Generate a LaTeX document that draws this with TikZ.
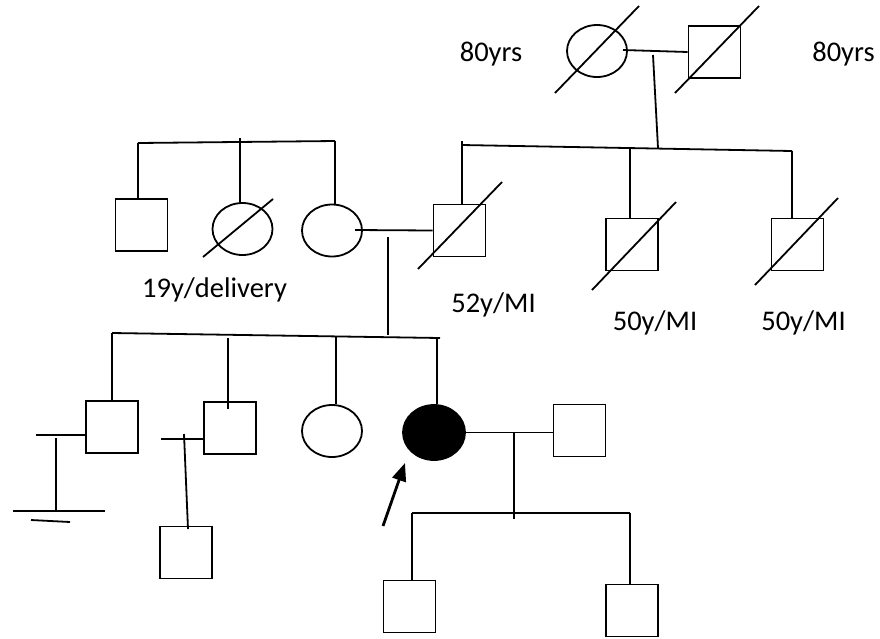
\documentclass[tikz,border=0pt]{standalone}
\usepackage{fontspec}
\setmainfont{Carlito}
\usetikzlibrary{shapes.geometric,arrows.meta}
\begin{document}
\begin{tikzpicture}[x=1pt,y=-1pt,line width=1.8pt,
  male/.style={draw,rectangle,inner sep=0pt,minimum width=52pt,minimum height=52pt},
  female/.style={draw,ellipse,inner sep=0pt,minimum width=60pt,minimum height=52pt},
  lbl/.style={font=\fontsize{28.5}{32}\selectfont,anchor=base,inner sep=0pt},
  ln/.style={line width=1.8pt}]
\useasboundingbox (0,0) rectangle (880,638);
% generation I
\node[female] (gm) at (597,51) {};
\node[male] (gf) at (714.5,52) {};
\draw[ln] (555,93) -- (639,6);
\draw[ln] (675,93) -- (759,6);
\node[lbl] (agegm) at (491,61) {80yrs};
\node[lbl] (agegf) at (843.5,61) {80yrs};
\coordinate (gmr) at (623,50);
\coordinate (m1) at (653,55);
\draw[ln] (gmr) -- (gf.west);
% generation II father side
\coordinate (s2l) at (462,145);
\coordinate (s2r) at (792,151);
\coordinate (s2m) at (658,148);
\draw[ln] (s2l) -- (s2r);
\draw[ln] (m1) -- (s2m);
\node[male] (fa) at (459.5,230.5) {};
\node[male] (u1) at (632,244.5) {};
\node[male] (u2) at (797.5,244.5) {};
\draw[ln] (418,269) -- (502,182);
\draw[ln] (592,290) -- (676,202);
\draw[ln] (755,285) -- (838,198);
\coordinate (fat) at (462,141);
\draw[ln] (fat) -- (fa.north -| fat);
\coordinate (u1t) at (630,148);
\draw[ln] (u1t) -- (u1.north -| u1t);
\draw[ln] (s2r) -- (u2.north -| s2r);
\node[lbl] (agefa) at (493.5,312) {52y/MI};
\node[lbl] (ageu1) at (655,330) {50y/MI};
\node[lbl] (ageu2) at (803.5,330) {50y/MI};
% generation II mother side
\node[male] (b1) at (141.5,225) {};
\node[female] (s1) at (242.5,229) {};
\node[female] (mo) at (332,230.5) {};
\draw[ln] (203,257) -- (273,199);
\coordinate (ml) at (138,143);
\coordinate (mr) at (335,141);
\coordinate (s1t) at (240,138);
\draw[ln] (ml) -- (mr);
\draw[ln] (ml) -- (b1.north -| ml);
\draw[ln] (s1t) -- (s1.north -| s1t);
\draw[ln] (mr) -- (mo.north -| mr);
\node[lbl] (ages1) at (214.5,297) {19y/delivery};
\coordinate (mor) at (355,230);
\draw[ln] (mor) -- (fa.west);
\coordinate (d2t) at (388,237);
\coordinate (d2b) at (388,335);
\draw[ln] (d2t) -- (d2b);
% generation III
\coordinate (s3l) at (112,333);
\coordinate (s3r) at (440,338);
\draw[ln] (s3l) -- (s3r);
\node[male] (c1) at (112,427) {};
\node[male] (c2) at (230,428) {};
\node[female] (c3) at (332,431) {};
\node[female,fill=black,minimum width=62pt,minimum height=55pt] (pb) at (434,432.5) {};
\draw[ln] (s3l) -- (c1.north);
\coordinate (c2t) at (228,338);
\coordinate (c2b) at (228,409);
\draw[ln] (c2t) -- (c2b);
\coordinate (c3t) at (336,337);
\draw[ln] (c3t) -- (c3.north -| c3t);
\coordinate (pbt) at (437,338);
\draw[ln] (pbt) -- (pb.north -| pbt);
% C1 partnership, no offspring
\coordinate (c1s) at (36,435);
\draw[ln] (c1s) -- (c1.west |- c1s);
\coordinate (c1d) at (56,438);
\coordinate (c1e) at (56,511);
\draw[ln] (c1d) -- (c1e);
\coordinate (nl) at (13,511);
\coordinate (nr) at (105,511);
\draw[ln] (nl) -- (nr);
\coordinate (n2l) at (31,520);
\coordinate (n2r) at (70,522);
\draw[ln] (n2l) -- (n2r);
% C2 partnership
\coordinate (c2s) at (161,439);
\draw[ln] (c2s) -- (c2.west |- c2s);
\node[male] (c2a) at (186,552.5) {};
\coordinate (c2d) at (184,434);
\coordinate (c2e) at (188,529);
\draw[ln] (c2d) -- (c2e);
% proband partnership
\node[male] (sp) at (579.5,430.5) {};
\draw[ln] (pb.east) -- (sp.west |- pb.east);
\coordinate (d3t) at (514,432);
\coordinate (d3b) at (514,519);
\draw[ln] (d3t) -- (d3b);
\coordinate (s4l) at (412,513);
\coordinate (s4r) at (630,513);
\draw[ln] (s4l) -- (s4r);
\node[male] (k1) at (409.5,606.5) {};
\node[male] (k2) at (632,610.5) {};
\draw[ln] (s4l) -- (k1.north -| s4l);
\draw[ln] (s4r) -- (k2.north -| s4r);
% proband arrow
\coordinate (at) at (383,526);
\coordinate (ah) at (405,463);
\draw[line width=2.8pt,-{Triangle[length=18pt,width=14pt]}] (at) -- (ah);
\end{tikzpicture}
\end{document}
